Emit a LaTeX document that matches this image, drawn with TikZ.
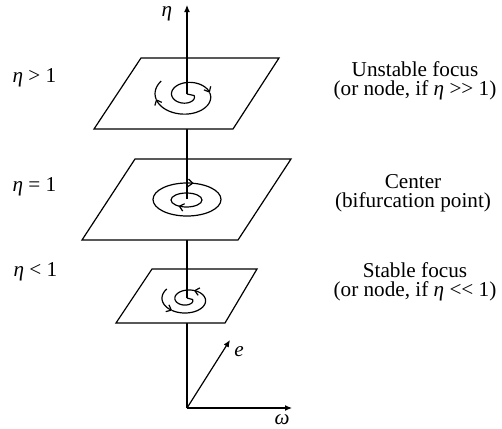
\documentclass[tikz,border=0pt]{standalone}
\usepackage{fontspec}
\setmainfont{Liberation Serif}
\usetikzlibrary{arrows.meta,decorations.markings}
\begin{document}
\begin{tikzpicture}[x=0.5pt,y=-0.5pt,line width=0.6pt,
  lbl/.style={font=\fontsize{10.6}{9.3}\selectfont,inner sep=0pt},
  plane/.style={draw,fill=white,line join=miter},
  axisarrow/.style={-{Latex[length=3.5pt,width=3pt]}},
  flow/.style={-{Straight Barb[length=2.2pt,width=3.8pt]}},
  flowback/.style={{Straight Barb[length=2.2pt,width=3.8pt]}-},
  ring/.style={postaction={decorate}}]
\useasboundingbox (0,0) rectangle (502,428);
% axis points
\coordinate (O) at (187,408);
\coordinate (top) at (187,5);
\coordinate (cU) at (187,94);
\coordinate (cC) at (187,199);
\coordinate (cS) at (187,298);
\coordinate (wEnd) at (292,408);
\coordinate (eEnd) at (230,340);
% frame axes
\draw[axisarrow] (O) -- (wEnd);
\draw[axisarrow] (O) -- (eEnd);
\draw (O) -- (cS);
% bottom plane: stable focus
\draw[plane] (152,269) -- (257,269) -- (225,323) -- (116,323) -- cycle;
\draw (cS) -- plot[domain=0:295,samples=60] ({187+(5.5+0.036*\x)*cos(\x)},{299.5+0.62*(5.5+0.036*\x)*sin(\x)});
\draw[flowback] plot[domain=295:490,samples=40] ({187+(5.5+0.036*\x)*cos(\x)},{299.5+0.62*(5.5+0.036*\x)*sin(\x)});
\draw[flowback] plot[domain=490:580,samples=20] ({187+(5.5+0.036*\x)*cos(\x)},{299.5+0.62*(5.5+0.036*\x)*sin(\x)});
\draw (cS) -- (cC);
% middle plane: center
\draw[plane] (135,159) -- (291,159) -- (238,240) -- (82,240) -- cycle;
\draw[ring,decoration={markings,mark=at position 0.79 with {\arrow{Straight Barb[length=2.2pt,width=3.8pt]}}}]
  (187,199.5) ellipse[x radius=34,y radius=16.5];
\draw[ring,decoration={markings,mark=at position 0.36 with {\arrow{Straight Barb[length=2.2pt,width=3.8pt]}}}]
  (186.5,200) ellipse[x radius=15.5,y radius=7];
\draw (cC) -- (cU);
% top plane: unstable focus
\draw[plane] (141,58) -- (279,58) -- (233,129) -- (94,129) -- cycle;
\draw[flow] (cU) -- plot[domain=0:350,samples=70] ({187+(7+0.046*\x)*cos(\x)},{95.5+0.67*(7+0.046*\x)*sin(\x)});
\draw[flow] plot[domain=350:530,samples=40] ({187+(7+0.046*\x)*cos(\x)},{95.5+0.67*(7+0.046*\x)*sin(\x)});
\draw plot[domain=530:580,samples=12] ({187+(7+0.046*\x)*cos(\x)},{95.5+0.67*(7+0.046*\x)*sin(\x)});
\draw[axisarrow] (cU) -- (top);
% labels
\node[lbl] (etaL) at (167,14) {\textit{η}};
\node[lbl] (eL) at (239,352) {\textit{e}};
\node[lbl] (wL) at (282,420) {\textit{ω}};
\node[lbl,anchor=base west] (gt) at (12,82) {\textit{η} > 1};
\node[lbl,anchor=base west] (eq) at (12,191) {\textit{η} = 1};
\node[lbl,anchor=base west] (lt) at (13,276) {\textit{η} < 1};
\node[lbl,align=center] (uf) at (415,81) {Unstable focus\\(or node, if \textit{η} >{}> 1)};
\node[lbl,align=center] (ce) at (413,193) {Center\\(bifurcation point)};
\node[lbl,align=center] (sf) at (415,282) {Stable focus\\(or node, if \textit{η} <{}< 1)};
\end{tikzpicture}
\end{document}
